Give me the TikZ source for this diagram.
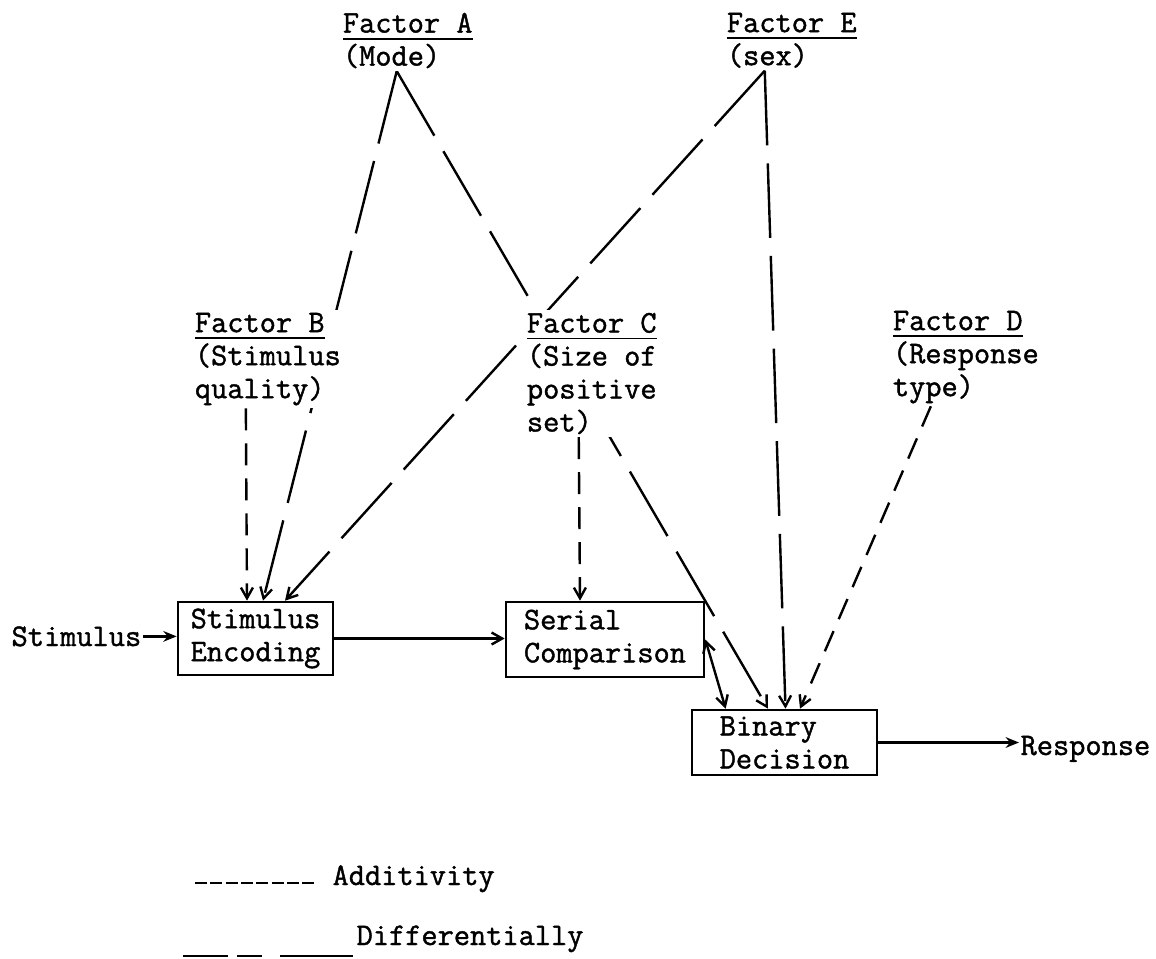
\documentclass[tikz,border=0pt]{standalone}
\usepackage{fontspec}
\setmonofont{Latin Modern Mono}[FakeBold=1.3]
\newsavebox{\facbox}
\newcommand{\facu}[1]{\sbox{\facbox}{#1}\rlap{\rule[-5.2pt]{\wd\facbox}{1.3pt}}\usebox{\facbox}}
\usepackage{tikz}
\usetikzlibrary{arrows.meta,backgrounds}

\begin{document}
\begin{tikzpicture}[x=0.75pt,y=-0.75pt,
  >={Straight Barb[length=8pt,width=9pt]},
  every node/.style={font=\ttfamily\fontsize{23.6pt}{24.75pt}\selectfont},
  box/.style={draw,line width=2pt,align=left,inner sep=2pt},
  factor/.style={align=left,anchor=north west,fill=white,inner sep=2pt},
  word/.style={anchor=base west,inner sep=1pt},
  flow/.style={line width=1.8pt},
  additive/.style={line width=1.8pt,dash pattern=on 16.5pt off 9.75pt},
  differ/.style={line width=1.8pt,dash pattern=on 56pt off 13.5pt}]
\useasboundingbox (0,0) rectangle (1156,959);
\node[factor] (fA) at (340,10) {\facu{Factor A}\\(Mode)};
\node[factor] (fE) at (724,10) {\facu{Factor E}\\(sex)};
\node[factor] (fB) at (192,310) {\facu{Factor B}\\(Stimulus\\quality)};
\node[factor] (fC) at (524,310) {\facu{Factor C}\\(Size of\\positive\\set)};
\node[factor] (fD) at (890,308) {\facu{Factor D}\\(Response\\type)};
\node[box,minimum width=116.25pt,minimum height=54.75pt] (enc) at (255.5,638.5) {Stimulus\\Encoding};
\node[box,minimum width=148.5pt,minimum height=56.25pt] (ser) at (605,639.5) {Serial\\Comparison};
\node[box,minimum width=138.75pt,minimum height=48.75pt] (bin) at (784.5,742.5) {Binary\\Decision};
\node[word] (stim) at (10,646) {Stimulus};
\node[word] (resp) at (1019,755) {Response};
\node[word] (addl) at (331,885) {Additivity};
\node[word] (difl) at (355,945) {Differentially};
\coordinate (adda) at (195,883); \coordinate (addb) at (315,883);
\coordinate (difa) at (183,956); \coordinate (difb) at (353,956);
\begin{scope}[on background layer]
\draw[differ,->] ([shift={(-11,0)}]fA.south) -- ([shift={(7.5,0)}]enc.north);
\draw[differ,->] ([shift={(-11,0)}]fA.south) -- ([shift={(-16.5,0)}]bin.north);
\draw[differ,->] ([shift={(-27,0)}]fE.south) -- ([shift={(29.5,0)}]enc.north);
\draw[differ,->] ([shift={(-27,0)}]fE.south) -- ([shift={(1,0)}]bin.north);
\draw[additive,->] ([shift={(-22,0)}]fB.south) -- ([shift={(-8.5,0)}]enc.north);
\draw[additive,->] ([shift={(-13,0)}]fC.south) -- ([shift={(-25,0)}]ser.north);
\draw[additive,->] ([shift={(-35,0)}]fD.south) -- ([shift={(15.5,0)}]bin.north);
\end{scope}
\draw[flow,-{Stealth[length=10pt,width=8pt]}] (stim.east) -- (stim.east -| enc.west);
\draw[flow,->] (enc.east) -- (enc.east -| ser.west);
\draw[flow,<->] (ser.east) -- ([shift={(35,0)}]bin.north west);
\draw[flow,-{Stealth[length=10pt,width=8pt]}] (bin.east) -- (bin.east -| resp.west);
\draw[line width=1.8pt,dash pattern=on 9pt off 2.5pt] (adda) -- (addb);
\draw[line width=1.8pt,dash pattern=on 33.75pt off 6.75pt on 18.75pt off 13.5pt on 54.75pt off 10pt] (difa) -- (difb);
\end{tikzpicture}
\end{document}
